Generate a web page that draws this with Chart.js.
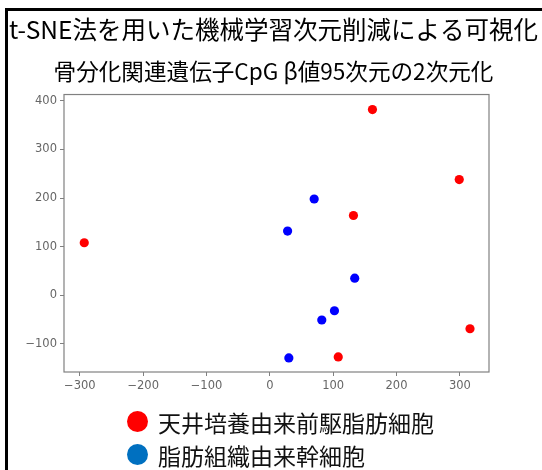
<!DOCTYPE html>
<html>
<head>
<meta charset="utf-8">
<script src="https://cdn.jsdelivr.net/npm/chart.js@4/dist/chart.umd.min.js"></script>
<style>
  html, body { margin: 0; padding: 0; background: #fff; }
  #wrap { position: relative; width: 542px; height: 470px; overflow: hidden; }
  #frame { position: absolute; left: 5px; top: 8px; width: 600px; height: 500px;
           border-left: 3px solid #000; border-top: 3px solid #000; }
  #chart { position: absolute; left: 0; top: 0; }
  #legend { position: absolute; left: 127px; top: 405px; font-family: "Noto Sans CJK JP", sans-serif;
            font-size: 23px; color: #111; }
  .item { display: flex; align-items: center; height: 33px; }
  .dot { width: 21px; height: 21px; border-radius: 50%; margin-right: 10px; }
</style>
</head>
<body>
<div id="wrap">
  <canvas id="chart" width="542" height="470"></canvas>
  <div id="frame"></div>
  <div id="legend"></div>
</div>
<script>
const titleText = 't-SNE法を用いた機械学習次元削減による可視化';
const subtitleText = '骨分化関連遺伝子CpG β値95次元の2次元化';

const seriesNames = ['天井培養由来前駆脂肪細胞', '脂肪組織由来幹細胞'];
const pointColors = ['#ff0000', '#0000ff'];
const legendColors = ['#ff0000', '#0070c0'];

// 天井培養由来前駆脂肪細胞
const redX = [162, 299, 132, 316, 108, -293];
const redY = [382, 238, 164, -69, -127, 108];
// 脂肪組織由来幹細胞
const blueX = [70, 28, 134, 102, 82, 30];
const blueY = [198, 132, 35, -32, -51, -129];

const xTicks = [-300, -200, -100, 0, 100, 200, 300];
const yTicks = [-100, 0, 100, 200, 300, 400];

function toPoints(xs, ys) {
    return xs.map((x, i) => ({ x: x, y: ys[i] }));
}

function fmt(v) {
    return v < 0 ? '\u2212' + Math.abs(v) : String(v);
}

// legend built from series names
const legend = document.getElementById('legend');
seriesNames.forEach((name, i) => {
    const row = document.createElement('div');
    row.className = 'item';
    row.innerHTML = '<span class="dot" style="background:' + legendColors[i] + '"></span><span>' + name + '</span>';
    legend.appendChild(row);
});

// box around the plot area
const boxPlugin = {
    id: 'box',
    beforeDatasetsDraw(chart) {
        const a = chart.chartArea;
        const ctx = chart.ctx;
        ctx.save();
        ctx.strokeStyle = '#808080';
        ctx.lineWidth = 1.2;
        ctx.strokeRect(a.left, a.top, a.right - a.left, a.bottom - a.top);
        ctx.restore();
    }
};

const tickFont = { family: 'DejaVu Sans', size: 11.5 };

const chart = new Chart(document.getElementById('chart'), {
    type: 'scatter',
    data: {
        datasets: [{
            label: seriesNames[0],
            data: toPoints(redX, redY),
            backgroundColor: pointColors[0],
            borderColor: pointColors[0],
            pointRadius: 4.6,
            borderWidth: 0
        }, {
            label: seriesNames[1],
            data: toPoints(blueX, blueY),
            backgroundColor: pointColors[1],
            borderColor: pointColors[1],
            pointRadius: 4.6,
            borderWidth: 0
        }]
    },
    options: {
        responsive: false,
        animation: false,
        layout: { padding: { left: 5, right: 0, top: 5, bottom: 68 } },
        plugins: {
            legend: { display: false },
            tooltip: { enabled: false },
            title: {
                display: true,
                text: titleText,
                color: '#000',
                font: { family: 'Noto Sans CJK JP', size: 24.5, weight: 'normal', lineHeight: 1.2 },
                padding: { top: 10, bottom: 8 }
            },
            subtitle: {
                display: true,
                text: subtitleText,
                color: '#000',
                font: { family: 'Noto Sans CJK JP', size: 22.6, weight: 'normal', lineHeight: 1.2 },
                padding: { top: 5, bottom: 10 }
            }
        },
        scales: {
            x: {
                type: 'linear',
                min: -325,
                max: 346,
                afterBuildTicks: s => { s.ticks = xTicks.map(v => ({ value: v })); },
                afterFit: s => { s.height = 30; },
                grid: { drawOnChartArea: false, drawTicks: true, tickLength: 4, tickColor: '#808080', color: '#808080' },
                border: { display: false },
                ticks: { color: '#666666', font: tickFont, padding: 3, maxRotation: 0, callback: v => fmt(v) }
            },
            y: {
                type: 'linear',
                min: -158,
                max: 413,
                afterBuildTicks: s => { s.ticks = yTicks.map(v => ({ value: v })); },
                afterFit: s => { s.width = 59; },
                grid: { drawOnChartArea: false, drawTicks: true, tickLength: 4, tickColor: '#808080', color: '#808080' },
                border: { display: false },
                ticks: { color: '#666666', font: tickFont, padding: 3, callback: v => fmt(v) }
            },
            // empty axis that only reserves the space right of the plot
            spacer: {
                type: 'linear',
                position: 'right',
                min: -158,
                max: 413,
                afterFit: s => { s.width = 53; },
                grid: { display: false },
                border: { display: false },
                ticks: { display: false }
            }
        }
    },
    plugins: [boxPlugin]
});
</script>
</body>
</html>
